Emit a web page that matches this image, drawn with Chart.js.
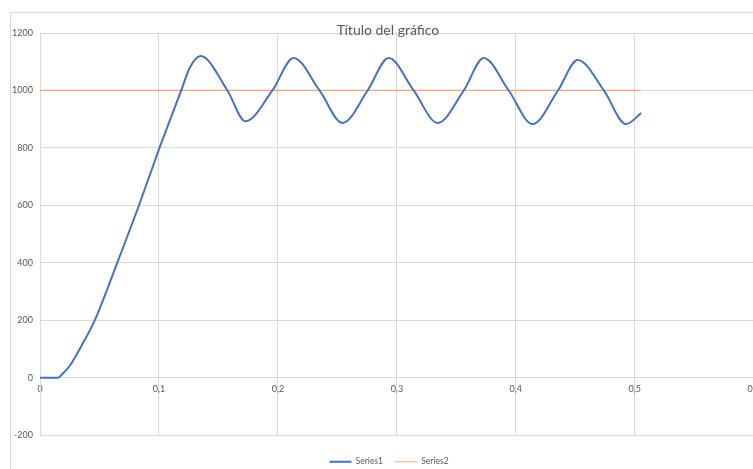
<!DOCTYPE html>
<html>
<head>
<meta charset="utf-8">
<script src="https://cdn.jsdelivr.net/npm/chart.js@4"></script>
<style>
  html, body { margin: 0; padding: 0; background: #fff; overflow: hidden; width: 753px; height: 469px; }
  #frame { position: absolute; left: 10px; top: 12px; width: 800px; height: 500px;
           border-left: 1px solid #d9d9d9; border-top: 1px solid #d9d9d9; }
  #wrap { position: absolute; left: 0; top: 0; width: 766px; height: 476px; }
</style>
</head>
<body>
<div id="frame"></div>
<div id="wrap"><canvas id="grafico"></canvas></div>
<script>
const title = 'Título del gráfico';
const seriesNames = ['Series1', 'Series2'];

// Series1 (x, y)
const s1X = [0, 0.015, 0.019, 0.025, 0.034, 0.046, 0.065, 0.0836, 0.1, 0.1187, 0.126, 0.135,
  0.1575, 0.1726, 0.1954, 0.2131, 0.235, 0.2543, 0.2754, 0.2931, 0.3141, 0.3343,
  0.3562, 0.373, 0.394, 0.414, 0.4354, 0.452, 0.474, 0.4926, 0.5053];
const s1Y = [0, 0, 14, 42, 105, 200, 401, 605, 795, 1000, 1080, 1120,
  1000, 893, 1000, 1113, 1000, 887, 1000, 1113, 1000, 887,
  1000, 1113, 1000, 883, 1000, 1106, 1000, 883, 921];

// Series2 (x, y)
const s2X = [0, 0.505];
const s2Y = [1000, 1000];

const xTicks = [0, 0.1, 0.2, 0.3, 0.4, 0.5, 0.6];
const yTicks = [-200, 0, 200, 400, 600, 800, 1000, 1200];

const toPts = (xs, ys) => xs.map((x, i) => ({ x, y: ys[i] }));
const fmt = v => (Math.round(v * 10) / 10).toString().replace('.', ',');

const txt = '#595959';
const grid = '#d9d9d9';
const fam = 'Lato, "Open Sans", sans-serif';

const titlePlugin = {
  id: 'tituloExcel',
  afterDraw(chart) {
    const ctx = chart.ctx;
    ctx.save();
    ctx.font = '14px ' + fam;
    ctx.fillStyle = txt;
    ctx.textAlign = 'center';
    ctx.textBaseline = 'middle';
    ctx.fillText(title, 388, 30);
    ctx.restore();
  }
};

new Chart(document.getElementById('grafico'), {
  type: 'scatter',
  data: {
    datasets: [
      {
        label: seriesNames[0],
        data: toPts(s1X, s1Y),
        showLine: true,
        borderColor: '#4472C4',
        backgroundColor: '#4472C4',
        borderWidth: 2,
        pointRadius: 0,
        cubicInterpolationMode: 'monotone'
      },
      {
        label: seriesNames[1],
        data: toPts(s2X, s2Y),
        showLine: true,
        borderColor: '#F4A46E',
        backgroundColor: '#F4A46E',
        borderWidth: 1.2,
        pointRadius: 0
      }
    ]
  },
  options: {
    responsive: true,
    maintainAspectRatio: false,
    animation: false,
    layout: { padding: { left: 12, right: 0, top: 33, bottom: 0 } },
    plugins: {
      title: { display: false },
      tooltip: { enabled: false },
      legend: {
        position: 'bottom',
        // empty legend title only used as vertical spacer
        title: { display: true, text: '', font: { size: 1 }, padding: { top: 9, bottom: 0 } },
        labels: {
          usePointStyle: true,
          pointStyle: 'line',
          pointStyleWidth: 22,
          boxHeight: 9,
          color: txt,
          font: { size: 8.5, family: fam },
          padding: 12
        }
      }
    },
    scales: {
      x: {
        type: 'linear',
        position: { y: 0 },
        min: 0,
        max: 0.6,
        afterBuildTicks: s => { s.ticks = xTicks.map(v => ({ value: v })); },
        grid: { color: grid, drawTicks: false },
        border: { display: false },
        ticks: { color: txt, font: { size: 9, family: fam }, padding: 6, callback: fmt, maxRotation: 0 }
      },
      y: {
        min: -200,
        max: 1200,
        afterBuildTicks: s => { s.ticks = yTicks.map(v => ({ value: v })); },
        afterFit: s => { s.width = 28; },
        grid: { color: grid, drawTicks: false },
        border: { color: grid },
        ticks: { color: txt, font: { size: 9, family: fam }, padding: 7, callback: v => String(v) }
      }
    }
  },
  plugins: [titlePlugin]
});
</script>
</body>
</html>
